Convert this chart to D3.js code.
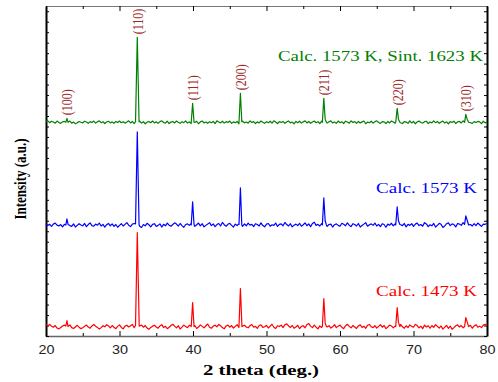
<!DOCTYPE html>
<html>
<head>
<meta charset="utf-8">
<script src="https://cdn.jsdelivr.net/npm/d3@7"></script>
<style>
  body { margin: 0; background: #fff; }
  svg { display: block; }
</style>
</head>
<body>
<script>
// XRD patterns, 2 theta 20..80, baseline sampled every 0.25 deg
var gridStart = 20, gridStep = 0.25;

var redNoise = [
  18, 8, 20, 4, -6, 10, -14, -22, -8, 6,
  14, 0, 8, 16, -10, -18, -4, 12, -6, -20,
  -12, 2, 14, -4, -16, 6, 20, 4, -8, -24,
  -10, 8, -2, 18, 6, -12, 10, -6, -20, 2,
  16, -8, -22, 4, 12, -4, 8, 20, -10, -2,
  -18, 6, 14, -6, 10, -14, -26, -8, 4, 12,
  -4, -16, 6, 18, -10, 2, -20, -6, 10, 22,
  4, -12, 8, -24, -6, 14, 0, -10, 12, 6,
  -8, 10, -18, -4, 16, 2, -12, 8, 24, -6,
  -16, 4, 12, -2, 20, 8, -10, -22, 6, 14,
  -6, 10, -14, 2, 18, -8, -20, 4, 12, -4,
  -12, 8, 20, -6, 2, -18, 10, 16, -8, -2,
  12, -14, 4, 22, -6, -18, 8, 0, 14, -10,
  18, 26, 6, -8, 10, -16, -4, 12, -20, 2,
  8, -12, 20, 28, 4, -10, 14, -6, -22, 6,
  -8, 10, 16, -4, 8, -14, -2, 18, -10, 4,
  14, -6, -20, 8, 22, 2, -12, 10, -4, -18,
  6, 16, -8, 4, -16, 12, 20, -2, -10, 8,
  -14, 2, 18, -6, 10, -20, -4, 14, 6, -12,
  4, 12, -8, 20, -2, -16, 8, -10, 16, 2,
  -6, 22, 10, -12, 4, -20, 14, -4, 8, -16,
  10, -8, 18, 2, -14, 6, -24, -6, 12, -18,
  4, -26, -10, 8, 16, -4, 10, -12, 20, 2,
  -8, 12, -16, 6, 18, -6, 4, -10, 14, 22,
  10];
var blueNoise = [
  12, -4, 6, -14, 8, 18, -2, -10, 4, -18,
  6, 2, 16, -6, -14, 10, -20, -4, 12, 0,
  -8, 14, -16, 4, 20, -6, -12, 8, -2, 18,
  -10, 6, -20, 2, 14, -8, 10, -14, 4, -22,
  -4, 12, -10, 6, 22, -2, -16, 8, 14, -6,
  10, -12, -24, 4, -8, 16, 2, -18, 6, 12,
  -14, -4, 10, -20, 6, -8, 18, -2, -12, 4,
  20, 8, -10, 14, -6, -22, 4, 10, -4, 16,
  6, -14, 2, 18, -8, 12, -18, -4, 8, 22,
  -6, 10, -16, 4, 14, -10, 24, 2, -12, 6,
  16, -4, -20, 8, -6, 12, 0, -14, 10, -8,
  18, -2, 6, -16, 12, 4, -10, 20, -6, -18,
  8, 14, -12, 2, -4, 18, -14, 6, 10, -8,
  24, 4, -10, 12, -18, -2, 8, -6, 16, -12,
  2, 20, -8, 10, -16, 14, 26, -4, 6, -10,
  12, -6, 18, -14, 4, 8, -20, 2, 10, -4,
  -12, 16, 6, -8, 20, -2, -16, 12, 4, -10,
  14, -20, -6, 8, 22, -12, 2, 10, -4, 18,
  -10, 6, -16, 12, 4, -22, 8, -2, 16, -8,
  10, -12, 20, 2, -6, 14, -18, 6, -4, 12,
  -14, 8, 18, -6, 4, -12, 22, 10, -16, 2,
  -8, 14, -20, -4, 16, 6, -24, -10, 12, 20,
  -6, 10, 4, -18, 14, 8, -4, 22, -12, 6,
  16, 4, -10, 12, -6, 18, 2, -14, 8, 6,
  14];
var greenNoise = [
  6, 14, -4, 10, 2, -8, 12, -2, -10, 4,
  8, -6, 4, 12, -8, 2, -14, -4, 8, 0,
  -6, 10, 2, -10, 6, -2, 12, -8, 4, 14,
  -4, 6, -12, 2, 10, -6, 4, -10, 8, -2,
  12, -4, 6, -8, 2, 14, -6, 8, -12, 4,
  -2, 10, -8, 6, -14, 2, 8, -4, 12, -6,
  4, -10, 6, 14, -2, -8, 10, -12, 2, 8,
  -6, 12, 0, -10, 6, -4, 14, -8, 4, -12,
  8, -2, 10, -14, 4, 12, -6, 2, -10, 6,
  -4, 8, -12, 14, 2, -6, 10, -8, 6, -2,
  12, -10, 4, -4, 8, -14, 6, 10, -6, 2,
  -8, 14, -2, 6, -12, 4, -6, 12, 0, -10,
  6, -4, 10, -8, 14, 2, -12, 6, -2, 8,
  -10, 4, 12, -6, 2, -14, 8, -4, 10, -8,
  4, 14, -6, 8, -10, 2, 12, -4, 6, -12,
  10, -2, 8, -8, 4, 14, -6, 2, -10, 12,
  -4, 6, -12, 10, 2, -8, 14, -2, 6, -10,
  8, -6, 4, 12, -14, 2, -4, 10, -8, 6,
  14, -2, -10, 6, 4, -12, 8, -6, 12, 2,
  -8, 4, 10, -4, -12, 6, 2, -10, 14, -6,
  8, -14, 4, 12, -2, -8, 6, 10, -12, 2,
  -6, 14, -4, 8, -10, 2, 12, -8, 4, -14,
  6, -2, 10, -12, 4, 8, -6, 14, -8, 2,
  12, -4, -10, 6, -2, 8, 4, -12, 10, -6,
  2];

// peaks: [2theta, counts above baseline]
var redPeaks = [
  [[22.7, 5], [22.85, 57], [23.0, 0]],
  [[32.18, 10], [32.42, 897], [32.68, 5]],
  [[39.76, 0], [39.95, 229], [40.14, 0]],
  [[46.26, 5], [46.45, 363], [46.66, 0]],
  [[57.6, 0], [57.8, 267], [57.98, 35], [58.15, 0]],
  [[67.58, 0], [67.78, 181], [67.95, 40], [68.15, 0]],
  [[76.95, 0], [77.12, 86], [77.3, 45], [77.5, 0]]];
var bluePeaks = [
  [[22.7, 0], [22.85, 57], [23.0, 5]],
  [[32.18, 10], [32.42, 888], [32.66, 5]],
  [[39.76, 0], [39.95, 220], [40.14, 5]],
  [[46.26, 5], [46.45, 353], [46.64, 0]],
  [[57.6, 0], [57.8, 258], [57.98, 40], [58.15, 0]],
  [[67.58, 0], [67.78, 172], [67.95, 40], [68.15, 5]],
  [[76.95, 5], [77.12, 86], [77.3, 45], [77.5, 0]]];
var greenPeaks = [
  [[22.7, 0], [22.85, 38], [23.0, 0]],
  [[32.18, 5], [32.42, 811], [32.66, 5]],
  [[39.76, 0], [39.95, 181], [40.14, 0]],
  [[46.26, 0], [46.45, 277], [46.64, 5]],
  [[57.6, 0], [57.8, 229], [57.98, 30], [58.15, 0]],
  [[67.58, 0], [67.78, 134], [67.95, 30], [68.15, 0]],
  [[76.95, 0], [77.12, 76], [77.3, 30], [77.5, 0]]];

var seriesNames = ["Calc. 1473 K", "Calc. 1573 K", "Calc. 1573 K, Sint. 1623 K"];
var seriesColors = ["#ff0000", "#0000ff", "#008000"];
var seriesOffsets = [90, 1060, 2040];

var hklLabels = ["(100)", "(110)", "(111)", "(200)", "(211)", "(220)", "(310)"];
var hklPos = [22.85, 32.42, 39.95, 46.45, 57.8, 67.78, 77.12];
var hklHeights = [38, 811, 181, 277, 229, 134, 76];

var xTicks = [20, 30, 40, 50, 60, 70, 80];
var xMinorTicks = [25, 35, 45, 55, 65, 75];

var W = 498, H = 382;
var x = d3.scaleLinear().domain([20, 80]).range([46, 487]);
var y = d3.scaleLinear().domain([0, 3150]).range([336, 6]);
var yTicks = d3.range(0, 3151, 100);

var svg = d3.select("body").append("svg")
    .attr("width", W)
    .attr("height", H);

function buildSeries(noise, peaks) {
    var pts = [];
    noise.forEach(function(v, i) {
        var t = gridStart + i*gridStep;
        var inside = peaks.some(function(p) { return t >= p[0][0] && t <= p[p.length-1][0]; });
        if (!inside) pts.push([t, v]);
    });
    peaks.forEach(function(p) { p.forEach(function(q) { pts.push(q); }); });
    pts.sort(function(a, b) { return a[0] - b[0]; });
    return pts;
}

var series = [
  buildSeries(redNoise, redPeaks),
  buildSeries(blueNoise, bluePeaks),
  buildSeries(greenNoise, greenPeaks)];

// axes
function styleAxis(g, color, width) {
    g.select(".domain").attr("stroke", color).attr("stroke-width", width);
    g.selectAll(".tick line").attr("stroke", "#000").attr("stroke-width", 1);
}

var bottomAxis = svg.append("g").attr("transform", "translate(0,336)")
    .call(d3.axisBottom(x).tickValues(xTicks).tickSizeInner(-5).tickSizeOuter(0).tickPadding(9).tickFormat(d3.format("d")));
styleAxis(bottomAxis, "#666", 1.3);
bottomAxis.selectAll("text")
    .attr("font-family", "Liberation Sans, Arial, sans-serif")
    .attr("font-size", 12)
    .attr("fill", "#222")
    .attr("transform", "scale(1.2,1)");
svg.append("g").attr("transform", "translate(0,336)")
    .call(d3.axisBottom(x).tickValues(xMinorTicks).tickSizeInner(-3).tickSizeOuter(0).tickFormat(""))
    .call(function(g) { g.select(".domain").remove(); });

var topAxis = svg.append("g").attr("transform", "translate(0,6)")
    .call(d3.axisTop(x).tickValues(xTicks).tickSizeInner(-5).tickSizeOuter(0).tickFormat(""));
styleAxis(topAxis, "#777", 1);
svg.append("g").attr("transform", "translate(0,6)")
    .call(d3.axisTop(x).tickValues(xMinorTicks).tickSizeInner(-3).tickSizeOuter(0).tickFormat(""))
    .call(function(g) { g.select(".domain").remove(); });

var leftAxis = svg.append("g").attr("transform", "translate(46,0)")
    .call(d3.axisLeft(y).tickValues(yTicks).tickSizeInner(-3).tickSizeOuter(0).tickFormat(""));
styleAxis(leftAxis, "#000", 2);
var rightAxis = svg.append("g").attr("transform", "translate(487,0)")
    .call(d3.axisRight(y).tickValues(yTicks).tickSizeInner(-3).tickSizeOuter(0).tickFormat(""));
styleAxis(rightAxis, "#000", 2);

// traces
var line = d3.line()
    .x(function(d) { return x(d[0]); });

series.forEach(function(s, i) {
    line.y(function(d) { return y(d[1] + seriesOffsets[i]); });
    svg.append("path")
        .datum(s)
        .attr("fill", "none")
        .attr("stroke", seriesColors[i])
        .attr("stroke-width", 1.2)
        .attr("stroke-linejoin", "round")
        .attr("d", line);
});

// series labels
var labelRight = [477, 477, 483];
var labelBase = [296, 193, 60.5];
var labelLen = [101, 101, 205];
seriesNames.forEach(function(n, i) {
    svg.append("text")
        .attr("x", labelRight[i])
        .attr("y", labelBase[i])
        .attr("text-anchor", "end")
        .attr("textLength", labelLen[i])
        .attr("lengthAdjust", "spacingAndGlyphs")
        .attr("font-family", "Liberation Serif, Times New Roman, serif")
        .attr("font-size", 14)
        .attr("fill", seriesColors[i])
        .text(n);
});

// hkl labels above the top pattern
hklLabels.forEach(function(h, i) {
    var px = x(hklPos[i]), py = y(hklHeights[i] + seriesOffsets[2]) - 3;
    svg.append("text")
        .attr("transform", "translate(" + px + "," + py + ") scale(1.3,1) rotate(-90)")
        .attr("dy", "0.35em")
        .attr("font-family", "Liberation Serif, Times New Roman, serif")
        .attr("font-size", 12)
        .attr("fill", "#9e2a2b")
        .text(h);
});

// axis titles
svg.append("text")
    .attr("x", 261)
    .attr("y", 375)
    .attr("text-anchor", "middle")
    .attr("textLength", 116)
    .attr("lengthAdjust", "spacingAndGlyphs")
    .attr("font-family", "Liberation Serif, Times New Roman, serif")
    .attr("font-weight", "bold")
    .attr("font-size", 15)
    .text("2 theta (deg.)");

svg.append("text")
    .attr("transform", "translate(20,179) scale(1.3,1) rotate(-90)")
    .attr("text-anchor", "middle")
    .attr("dy", "0.35em")
    .attr("font-family", "Liberation Serif, Times New Roman, serif")
    .attr("font-weight", "bold")
    .attr("font-size", 13)
    .text("Intensity (a.u.)");
</script>
</body>
</html>
